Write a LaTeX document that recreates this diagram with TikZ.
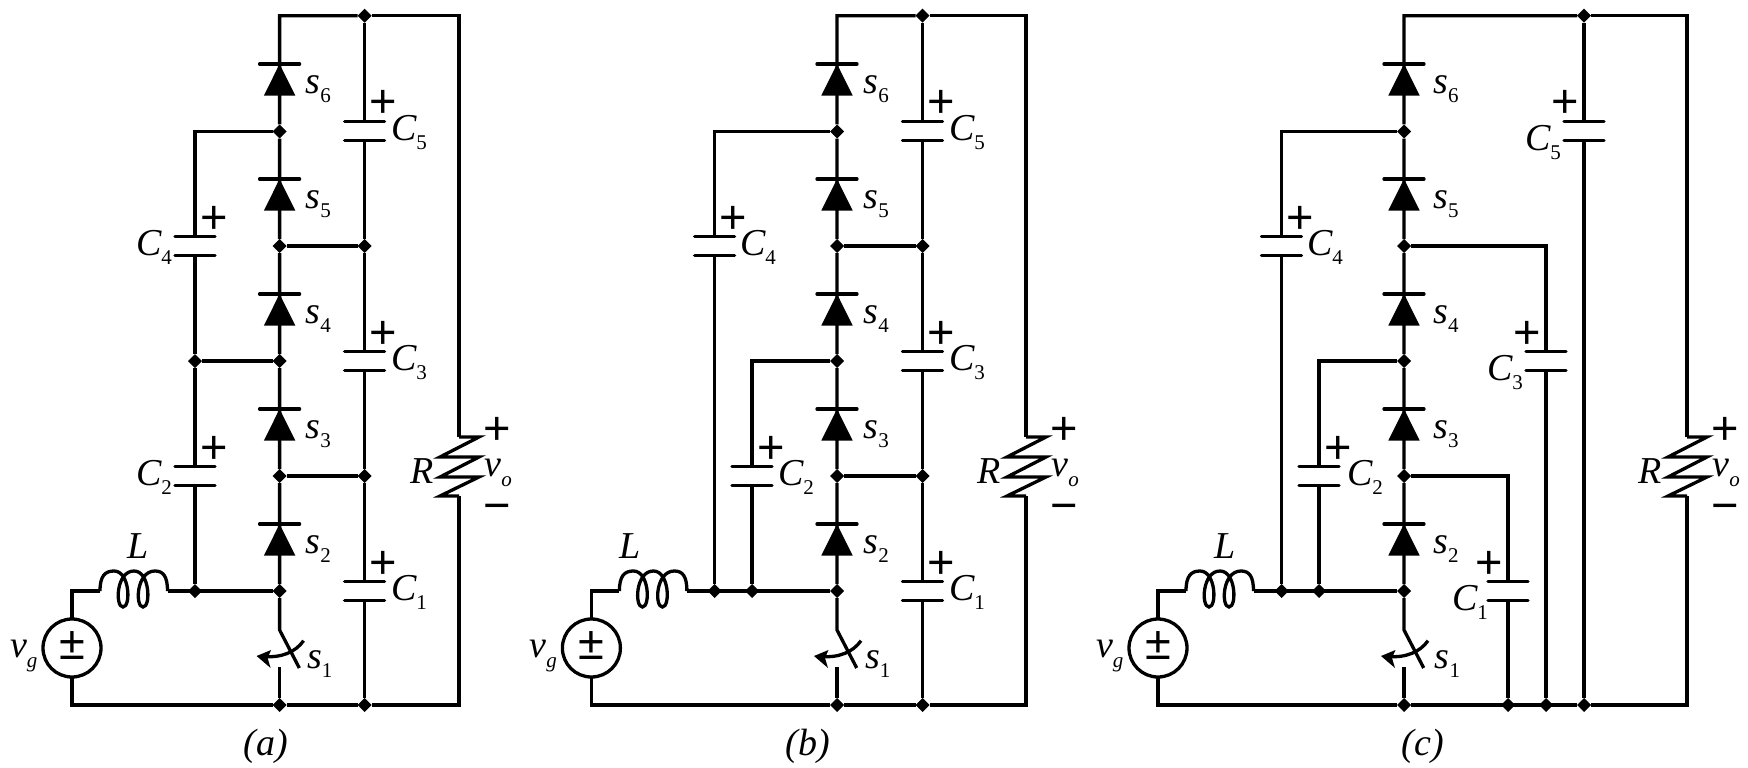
\documentclass[tikz,border=0pt]{standalone}
\usepackage{fontspec}
\setmainfont{Liberation Serif}
\newfontfamily\pmfont{Liberation Sans}
\usetikzlibrary{shapes.geometric}
\tikzset{
  wire/.style={line width=3.3pt,line cap=butt,line join=miter},
  plate/.style={line width=3.3pt,line cap=round},
  junct/.style={diamond,fill=black,draw=none,inner sep=0pt,outer sep=0pt,minimum width=14pt,minimum height=14pt},
  lab/.style={inner sep=0pt,outer sep=0pt,anchor=base west,font=\fontsize{38}{40}\selectfont},
  pm/.style={inner sep=0pt,outer sep=0pt,anchor=base,font=\pmfont\fontsize{47}{47}\selectfont},
  srcbody/.style={circle,draw,line width=3.3pt,inner sep=0pt,outer sep=0pt,minimum size=58pt},
  captiontext/.style={inner sep=0pt,outer sep=0pt,anchor=base,font=\fontsize{38}{40}\selectfont\itshape}
}
\newcommand\Sb[2]{{\itshape #1}\raisebox{-9pt}{\fontsize{21}{21}\selectfont #2}}
\newcommand\PlusAt[3]{\node[pm] (#1) at (#2,#3+16.3) {+};}
\newcommand\MinusAt[3]{\node[pm] (#1) at (#2,#3+16.3) {\char"2212};}
% prefix, name, line x, upper plate y, plus side (+1/-1)
\newcommand\CapAt[5]{%
  \coordinate (#1#2u) at (#3,#4);
  \coordinate (#1#2l) at (#3,#4+19);
  \draw[plate] (#3-20,#4) -- (#3+20,#4);
  \draw[plate] (#3-20,#4+19) -- (#3+20,#4+19);
  \PlusAt{#1#2p}{#3+#5*19}{#4-20}
}
\newcommand\DiodeAt[4]{%
  \fill (#2,#3) -- (#2+15.7,#3+31.5) -- (#2-15.7,#3+31.5) -- cycle;
  \draw[plate] (#2-20,#3) -- (#2+20,#3);
  \node[lab] (#1s#4) at (#2+\sdx,#3+29.5) {\Sb{s}{#4}};
}
% prefix, spine x, source x, outer cap x, R x, s label dx
\newcommand\Common[6]{%
  \def\sdx{#6}
  \coordinate (#1tc) at (#2,15.7);
  \coordinate (#1sw) at (#2,630);
  \coordinate (#1swe) at (#2+19.7,668);
  \coordinate (#1swl) at (#2,667);
  \coordinate (#1rt) at (#5,15.7);
  \coordinate (#1rb) at (#5,705);
  \coordinate (#1Ra) at (#5,437);
  \coordinate (#1Rb) at (#5,496);
  \coordinate (#1La) at (#3+28,591);
  \coordinate (#1Lb) at (#3+95.5,591);
  \node[junct] (#1n5) at (#2,131.5) {};
  \node[junct] (#1n4) at (#2,246) {};
  \node[junct] (#1n3) at (#2,361) {};
  \node[junct] (#1n2) at (#2,476) {};
  \node[junct] (#1n1) at (#2,591) {};
  \node[junct] (#1nb) at (#2,705) {};
  \node[junct] (#1jt) at (#4,15.7) {};
  \node[junct] (#1jb) at (#4,705) {};
  \node[srcbody] (#1src) at (#3,648) {};
  \draw[wire] (#1jt) -- (#1tc) -- (#1n5) -- (#1n4) -- (#1n3) -- (#1n2) -- (#1n1) -- (#1sw) -- (#1swe);
  \draw[wire] (#1swl) -- (#1nb);
  \draw[wire] (#1jt) -- (#1rt) -- (#1Ra);
  \draw[wire] (#1Rb) -- (#1rb) -- (#1jb);
  \draw[wire] (#1jb) -- (#1nb) -- (#1src.south |- #1nb) -- (#1src.south);
  \draw[wire] (#1src.north) |- (#1La);
  \draw[wire] (#1Lb) -- (#1n1);
  % resistor
  \draw[wire] (#1Ra) -- (#5+20,437) -- (#5-19,457) -- (#5+20,457) -- (#5-19,477) -- (#5+20,477) -- (#5-19,496) -- (#1Rb);
  % inductor
  \draw[wire] (#1La) .. controls (#3+28,576) and (#3+33,571) .. (#3+42,571)
    .. controls (#3+58,571) and (#3+59,607) .. (#3+51,607)
    .. controls (#3+43,607) and (#3+44,571) .. (#3+62,571)
    .. controls (#3+78,571) and (#3+79,607) .. (#3+71,607)
    .. controls (#3+63,607) and (#3+64,571) .. (#3+83,571)
    .. controls (#3+91,571) and (#3+95.5,576) .. (#1Lb);
  % switch arrow
  \draw[line width=3.3pt] (#2+24,640.7) .. controls (#2+16,652) and (#2+2,658) .. (#2-16,656.5);
  \fill (#2-23,656) -- (#2-8.5,650) -- (#2-12,658) -- (#2-9,668) -- cycle;
  \DiodeAt{#1}{#2}{64}{6}
  \DiodeAt{#1}{#2}{179}{5}
  \DiodeAt{#1}{#2}{294}{4}
  \DiodeAt{#1}{#2}{409}{3}
  \DiodeAt{#1}{#2}{524}{2}
  \node[lab] (#1s1) at (#2+#6+1.4,668) {\Sb{s}{1}};
  \node[pm] (#1spm) at (#3,659.6) {\char"00B1};
  \PlusAt{#1op}{#5+38}{428}
  \MinusAt{#1om}{#5+38}{505}
  \node[lab] (#1Rl) at (#5-49,483) {\itshape R};
  \node[lab] (#1vo) at (#5+25.5,476) {{\itshape v}\raisebox{-10pt}{\fontsize{21}{21}\selectfont\itshape o}};
  \node[lab] (#1vg) at (#3-62,657) {{\itshape v}\raisebox{-10pt}{\fontsize{21}{21}\selectfont\itshape g}};
}
\begin{document}
\begin{tikzpicture}[x=1pt,y=-1pt]
\useasboundingbox (0,0) rectangle (1748,768);
%% panel a
\Common{a}{279.6}{72}{364.6}{459}{26}
\node[junct] (aj3) at (195,361) {};
\node[junct] (aj1) at (195,591) {};
\node[junct] (ak4) at (364.6,246) {};
\node[junct] (ak2) at (364.6,476) {};
\CapAt{a}{c5}{364.6}{121.3}{1}
\CapAt{a}{c3}{364.6}{351.7}{1}
\CapAt{a}{c1}{364.6}{581.7}{1}
\CapAt{a}{c4}{195}{236.7}{1}
\CapAt{a}{c2}{195}{466.7}{1}
\draw[wire] (an5) -| (ac4u);
\draw[wire] (ac4l) -- (aj3) -- (ac2u);
\draw[wire] (ac2l) -- (aj1);
\draw[wire] (aj3) -- (an3);
\draw[wire] (an4) -- (ak4);
\draw[wire] (an2) -- (ak2);
\draw[wire] (ajt) -- (ac5u);
\draw[wire] (ac5l) -- (ak4) -- (ac3u);
\draw[wire] (ac3l) -- (ak2) -- (ac1u);
\draw[wire] (ac1l) -- (ajb);
\node[lab] (acl5) at (391,140.3) {\Sb{C}{5}};
\node[lab] (acl3) at (391,370.7) {\Sb{C}{3}};
\node[lab] (acl1) at (391,600.7) {\Sb{C}{1}};
\node[lab] (acl4) at (136,255.7) {\Sb{C}{4}};
\node[lab] (acl2) at (136,485.7) {\Sb{C}{2}};
\node[lab] (aLl) at (127,558) {\itshape L};
\node[captiontext] (acap) at (266,755) {(a)};
%% panel b
\Common{b}{837}{591.4}{922.5}{1026}{26.6}
\node[junct] (bj1) at (714.6,591) {};
\node[junct] (bj2) at (752,591) {};
\node[junct] (bk4) at (922.5,246) {};
\node[junct] (bk2) at (922.5,476) {};
\CapAt{b}{c5}{922.5}{121.3}{1}
\CapAt{b}{c3}{922.5}{351.7}{1}
\CapAt{b}{c1}{922.5}{581.7}{1}
\CapAt{b}{c4}{714.6}{236.7}{1}
\CapAt{b}{c2}{752}{466.7}{1}
\draw[wire] (bn5) -| (bc4u);
\draw[wire] (bc4l) -- (bj1);
\draw[wire] (bn3) -| (bc2u);
\draw[wire] (bc2l) -- (bj2);
\draw[wire] (bn4) -- (bk4);
\draw[wire] (bn2) -- (bk2);
\draw[wire] (bjt) -- (bc5u);
\draw[wire] (bc5l) -- (bk4) -- (bc3u);
\draw[wire] (bc3l) -- (bk2) -- (bc1u);
\draw[wire] (bc1l) -- (bjb);
\node[lab] (bcl5) at (949,140.3) {\Sb{C}{5}};
\node[lab] (bcl3) at (949,370.7) {\Sb{C}{3}};
\node[lab] (bcl1) at (949,600.7) {\Sb{C}{1}};
\node[lab] (bcl4) at (740,255.7) {\Sb{C}{4}};
\node[lab] (bcl2) at (778,485.7) {\Sb{C}{2}};
\node[lab] (bLl) at (619,558) {\itshape L};
\node[captiontext] (bcap) at (808,755) {(b)};
%% panel c
\Common{c}{1404}{1158}{1584}{1687}{29.4}
\node[junct] (cj1) at (1281.5,591) {};
\node[junct] (cj2) at (1319,591) {};
\node[junct] (ck1) at (1508,705) {};
\node[junct] (ck3) at (1546,705) {};
\CapAt{c}{c5}{1584}{121.3}{-1}
\CapAt{c}{c3}{1546}{351.7}{-1}
\CapAt{c}{c1}{1508}{581.7}{-1}
\CapAt{c}{c4}{1281.5}{236.7}{1}
\CapAt{c}{c2}{1319}{466.7}{1}
\draw[wire] (cn5) -| (cc4u);
\draw[wire] (cc4l) -- (cj1);
\draw[wire] (cn3) -| (cc2u);
\draw[wire] (cc2l) -- (cj2);
\draw[wire] (cn4) -| (cc3u);
\draw[wire] (cc3l) -- (ck3);
\draw[wire] (cn2) -| (cc1u);
\draw[wire] (cc1l) -- (ck1);
\draw[wire] (cjt) -- (cc5u);
\draw[wire] (cc5l) -- (cjb);
\node[lab] (ccl5) at (1525,150) {\Sb{C}{5}};
\node[lab] (ccl3) at (1487,380) {\Sb{C}{3}};
\node[lab] (ccl1) at (1452,610.7) {\Sb{C}{1}};
\node[lab] (ccl4) at (1307,255.7) {\Sb{C}{4}};
\node[lab] (ccl2) at (1347,485.7) {\Sb{C}{2}};
\node[lab] (cLl) at (1214,558) {\itshape L};
\node[captiontext] (ccap) at (1423,755) {(c)};
\end{tikzpicture}
\end{document}
